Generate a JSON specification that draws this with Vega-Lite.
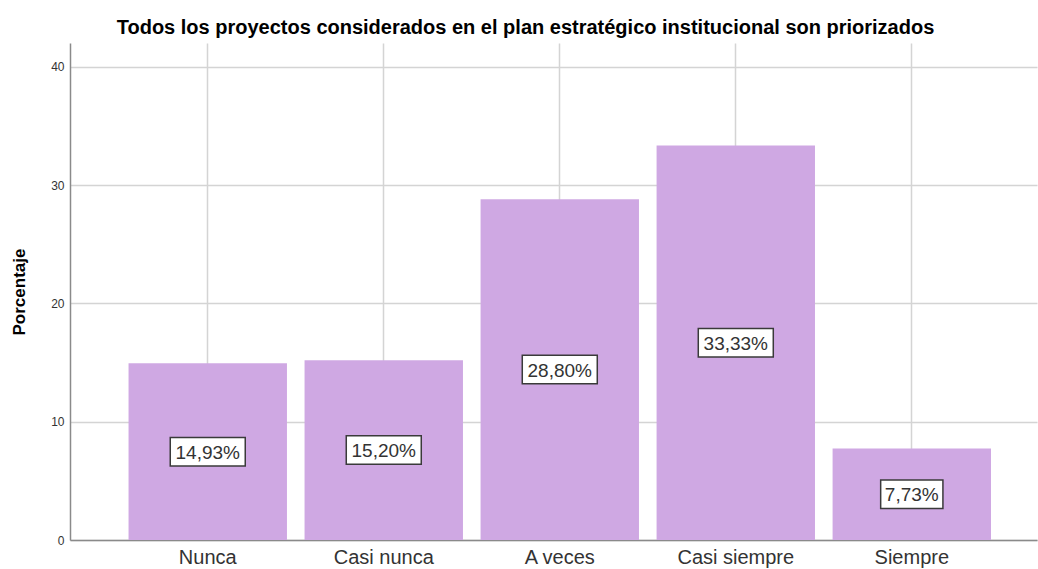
{
  "$schema": "https://vega.github.io/schema/vega-lite/v6.json",
  "autosize": "none",
  "padding": {"left": 70, "top": 43, "right": 1, "bottom": 29},
  "width": 967,
  "height": 497,
  "background": "white",
  "title": {
    "text": "Todos los proyectos considerados en el plan estratégico institucional son priorizados",
    "font": "Liberation Sans",
    "fontSize": 20,
    "fontWeight": "bold",
    "color": "#000000",
    "anchor": "middle",
    "frame": "group",
    "dx": -28,
    "offset": 5
  },
  "data": {
    "values": [
      {"categoria": "Nunca", "porcentaje": 14.93},
      {"categoria": "Casi nunca", "porcentaje": 15.20},
      {"categoria": "A veces", "porcentaje": 28.80},
      {"categoria": "Casi siempre", "porcentaje": 33.33},
      {"categoria": "Siempre", "porcentaje": 7.73}
    ]
  },
  "transform": [
    {"calculate": "replace(format(datum.porcentaje, '.2f'), '.', ',') + '%'", "as": "etiqueta"},
    {"calculate": "datum.porcentaje / 2", "as": "medio"}
  ],
  "encoding": {
    "x": {
      "field": "categoria",
      "type": "nominal",
      "sort": null,
      "scale": {"paddingInner": 0.1, "paddingOuter": 0.297, "align": 0.56},
      "axis": {
        "title": null,
        "labelAngle": 0,
        "labelFont": "Liberation Sans",
        "labelFontSize": 20,
        "labelColor": "#333333",
        "labelPadding": 7,
        "ticks": false,
        "grid": true,
        "bandPosition": 0.5,
        "gridColor": "#d4d4d4",
        "gridWidth": 1.5,
        "domainColor": "#8a8a8a",
        "domainWidth": 1.5
      }
    }
  },
  "layer": [
    {
      "mark": {"type": "bar", "color": "#cfa8e3"},
      "encoding": {
        "y": {
          "field": "porcentaje",
          "type": "quantitative",
          "scale": {"domain": [0, 42], "nice": false},
          "axis": {
            "title": "Porcentaje",
            "titleFont": "Liberation Sans",
            "titleFontSize": 17,
            "titleFontWeight": "bold",
            "titleColor": "#000000",
            "titlePadding": 22,
            "values": [0, 10, 20, 30, 40],
            "labelFont": "Liberation Sans",
            "labelFontSize": 12,
            "labelColor": "#333333",
            "labelPadding": 6,
            "ticks": false,
            "gridColor": "#d4d4d4",
            "gridWidth": 1.5,
            "domainColor": "#8a8a8a",
            "domainWidth": 1.5
          }
        }
      }
    },
    {
      "mark": {
        "type": "point",
        "filled": true,
        "fill": "white",
        "stroke": "#3a3a3a",
        "strokeWidth": 1.5,
        "opacity": 1,
        "size": 5625
      },
      "encoding": {
        "y": {"field": "medio", "type": "quantitative"},
        "shape": {
          "condition": {"test": "datum.porcentaje < 10", "value": "M-0.83,-0.38H0.83V0.38H-0.83Z"},
          "value": "M-1,-0.38H1V0.38H-1Z"
        }
      }
    },
    {
      "mark": {
        "type": "text",
        "font": "Liberation Sans",
        "fontSize": 19,
        "color": "#333333",
        "baseline": "middle",
        "align": "center",
        "dy": 1
      },
      "encoding": {
        "y": {"field": "medio", "type": "quantitative"},
        "text": {"field": "etiqueta"}
      }
    }
  ],
  "config": {
    "view": {"stroke": null}
  }
}
